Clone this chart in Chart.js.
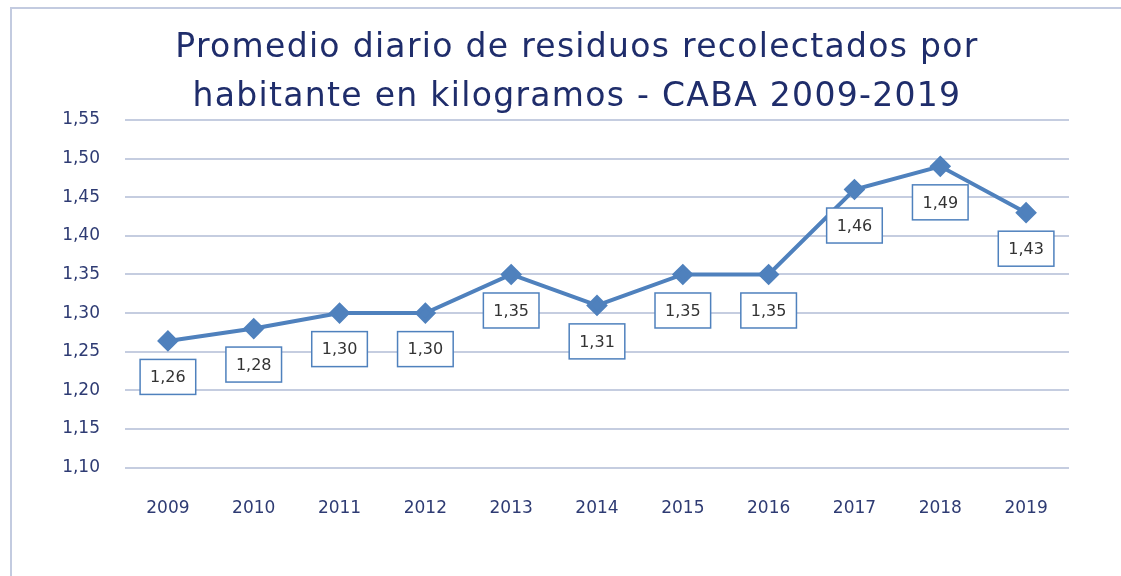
<!DOCTYPE html>
<html>
<head>
<meta charset="utf-8">
<script src="https://cdn.jsdelivr.net/npm/chart.js@4/dist/chart.umd.min.js"></script>
<style>
  html,body{margin:0;padding:0;background:#fff;}
  #wrap{position:absolute;left:0;top:0;width:1121px;height:576px;}
  #frame{position:absolute;left:10px;top:7px;right:-2px;bottom:-2px;border-left:2px solid #c3cbe0;border-top:2px solid #c3cbe0;}
</style>
</head>
<body>
<div id="wrap">
  <div id="frame"></div>
  <canvas id="c" width="1121" height="576"></canvas>
</div>
<script>
const years=['2009','2010','2011','2012','2013','2014','2015','2016','2017','2018','2019'];
const kgPerHab=[1.264,1.28,1.30,1.30,1.35,1.31,1.35,1.35,1.46,1.49,1.43];
const yTicks=[1.10,1.15,1.20,1.25,1.30,1.35,1.40,1.45,1.50,1.55];
const titleLines=['Promedio diario de residuos recolectados por','habitante en kilogramos - CABA 2009-2019'];

const FONT='DejaVu Sans';
const blue='#4f81bd';
const fmt=v=>v.toFixed(2).replace('.',',');

// title drawn by hand so it can sit off-centre like the original
const titleBlock={
  id:'titleBlock',
  beforeDraw(chart){
    const ctx=chart.ctx;
    ctx.save();
    ctx.font='33px '+FONT; ctx.fillStyle='#1f2d6b';
    ctx.textAlign='center'; ctx.textBaseline='middle';
    if('letterSpacing' in ctx) ctx.letterSpacing='1.3px';
    ctx.fillText(titleLines[0],577,48);
    ctx.fillText(titleLines[1],577,97);
    ctx.restore();
  }
};

const boxLabels={
  id:'boxLabels',
  afterDatasetsDraw(chart){
    const ctx=chart.ctx; const meta=chart.getDatasetMeta(0);
    ctx.save();
    ctx.font='16px '+FONT; ctx.textAlign='center'; ctx.textBaseline='middle';
    meta.data.forEach((pt,i)=>{
      const txt=fmt(kgPerHab[i]);
      const w=ctx.measureText(txt).width+20, h=35;
      const cx=pt.x, cy=pt.y+36;
      ctx.fillStyle='#fff'; ctx.fillRect(cx-w/2,cy-h/2,w,h);
      ctx.strokeStyle=blue; ctx.lineWidth=1.5; ctx.strokeRect(cx-w/2,cy-h/2,w,h);
      ctx.fillStyle='#333'; ctx.fillText(txt,cx,cy+1);
    });
    ctx.restore();
  }
};

new Chart(document.getElementById('c'),{
  type:'line',
  data:{labels:years,datasets:[{
    data:kgPerHab,borderColor:blue,backgroundColor:blue,borderWidth:4,
    pointStyle:'rectRot',pointRadius:8,pointHoverRadius:8,tension:0
  }]},
  options:{
    responsive:false,animation:false,
    layout:{padding:{left:0,right:52,top:120,bottom:34}},
    plugins:{legend:{display:false},tooltip:{enabled:false},title:{display:false}},
    scales:{
      x:{offset:true,grid:{display:false},border:{display:false},
        ticks:{color:'#2e3b73',font:{family:FONT,size:17},padding:23}},
      y:{min:1.10,max:1.55,afterBuildTicks:s=>{s.ticks=yTicks.map(v=>({value:v}));},
        afterFit:s=>{s.width=125;},
        grid:{color:'#c5cde0',lineWidth:2,drawTicks:false},border:{display:false},
        ticks:{color:'#2e3b73',font:{family:FONT,size:17},padding:25,callback:v=>fmt(v)}}
    }
  },
  plugins:[titleBlock,boxLabels]
});
</script>
</body>
</html>
